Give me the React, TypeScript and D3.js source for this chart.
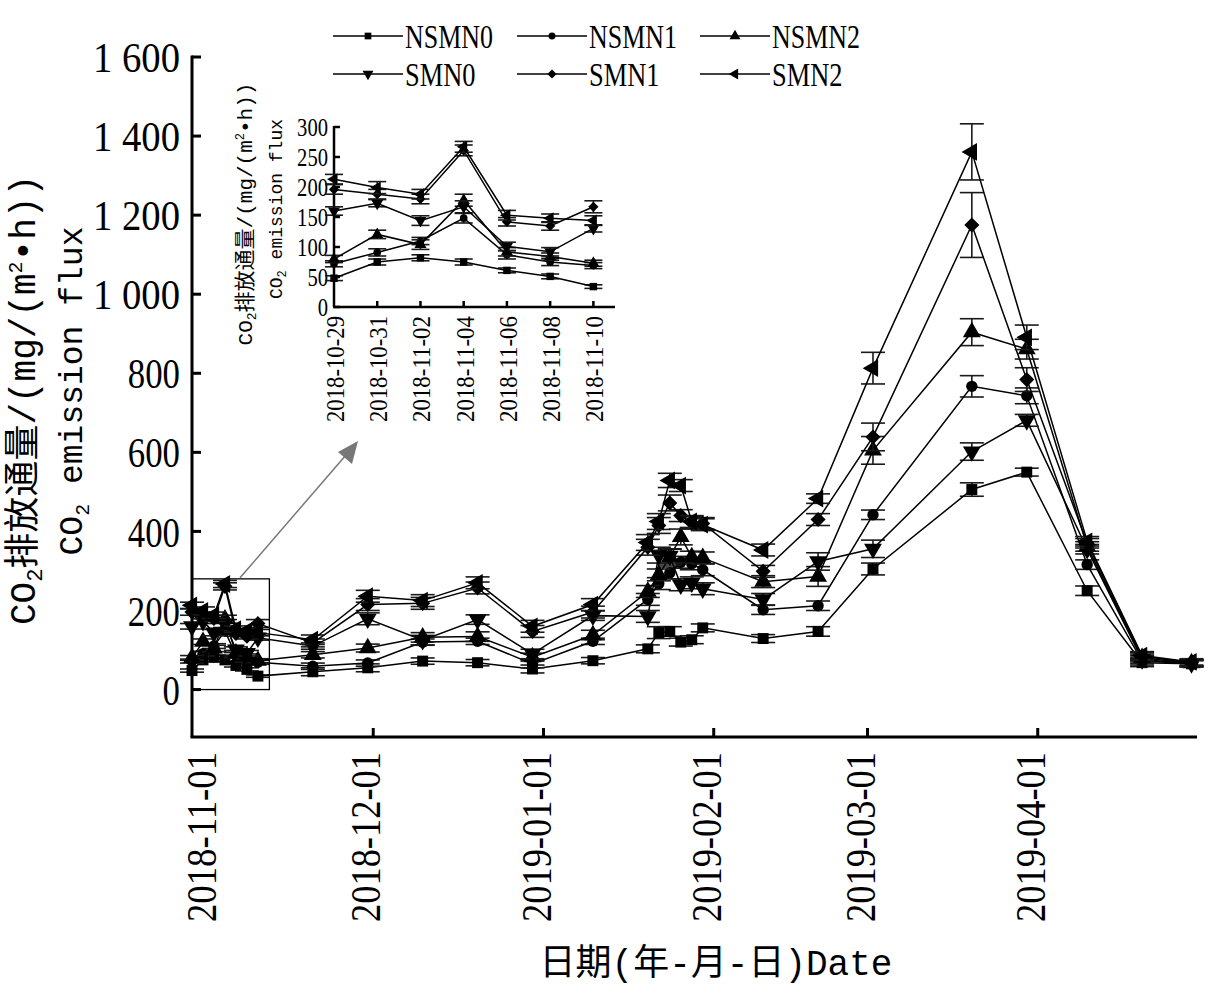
import React from 'react';
import * as d3 from 'd3';

// sampling dates
const dates = [
  '2018-10-29', '2018-10-31', '2018-11-02', '2018-11-04', '2018-11-06', '2018-11-08', '2018-11-10',
  '2018-11-20', '2018-11-30', '2018-12-10', '2018-12-20', '2018-12-30', '2019-01-10',
  '2019-01-20', '2019-01-22', '2019-01-24', '2019-01-26', '2019-01-28', '2019-01-30',
  '2019-02-10', '2019-02-20', '2019-03-02', '2019-03-20', '2019-03-30', '2019-04-10',
  '2019-04-20', '2019-04-29',
];

const seriesNames = ['NSMN0', 'NSMN1', 'NSMN2', 'SMN0', 'SMN1', 'SMN2'];

const nsmn0 = [48, 75, 82, 75, 61, 51, 34, 45, 55, 72, 68, 52, 73, 103, 144, 147, 120, 126, 156, 129, 147, 305, 506, 550, 250, 68, 65];
const nsmn1 = [72, 91, 110, 148, 87, 75, 69, 59, 67, 120, 122, 65, 122, 228, 268, 295, 322, 318, 303, 202, 212, 442, 767, 743, 316, 72, 66];
const nsmn2 = [80, 121, 104, 178, 92, 84, 73, 88, 105, 132, 134, 82, 138, 248, 290, 335, 386, 335, 333, 273, 286, 605, 904, 861, 362, 80, 67];
const smn0 = [160, 173, 144, 167, 101, 92, 131, 110, 179, 125, 177, 90, 187, 185, 340, 338, 265, 270, 255, 228, 324, 356, 602, 681, 355, 76, 66];
const smn1 = [196, 188, 180, 261, 142, 135, 167, 118, 215, 218, 257, 147, 196, 360, 415, 472, 440, 422, 420, 299, 430, 639, 1175, 784, 370, 84, 68];
const smn2 = [213, 199, 188, 267, 153, 148, 144, 126, 236, 225, 270, 160, 215, 372, 425, 529, 516, 425, 417, 353, 483, 813, 1360, 891, 375, 86, 70];

const nsmn0Err = [4, 5, 5, 5, 4, 4, 3, 10, 10, 8, 8, 10, 8, 10, 15, 12, 10, 10, 10, 10, 12, 15, 17, 10, 12, 10, 8];
const nsmn1Err = [5, 6, 6, 8, 7, 6, 5, 8, 8, 8, 8, 10, 8, 15, 15, 15, 15, 15, 15, 12, 12, 12, 27, 20, 12, 10, 8];
const nsmn2Err = [6, 7, 8, 10, 7, 6, 5, 8, 10, 12, 12, 10, 12, 15, 15, 20, 20, 15, 15, 15, 25, 35, 34, 25, 12, 10, 8];
const smn0Err = [7, 6, 8, 10, 7, 7, 6, 8, 15, 12, 12, 12, 12, 15, 20, 18, 15, 15, 15, 15, 22, 22, 22, 15, 12, 10, 8];
const smn1Err = [8, 8, 8, 9, 7, 7, 10, 10, 15, 15, 15, 15, 15, 20, 20, 20, 15, 15, 15, 15, 15, 35, 82, 30, 12, 10, 8];
const smn2Err = [8, 10, 8, 9, 8, 7, 8, 12, 15, 15, 15, 15, 15, 20, 20, 18, 15, 15, 15, 15, 12, 40, 71, 31, 12, 10, 8];

const mainYTicks = [0, 200, 400, 600, 800, 1000, 1200, 1400, 1600];
const monthTicks = ['2018-11-01', '2018-12-01', '2019-01-01', '2019-02-01', '2019-03-01', '2019-04-01'];
const insetYTicks = [0, 50, 100, 150, 200, 250, 300];
const insetCount = 7; // first seven dates shown in the inset

const parse = d3.utcParse('%Y-%m-%d');
const numFont = "'Liberation Serif', 'Times New Roman', serif";
const titleFont = "'Liberation Mono', 'Noto Sans CJK SC', monospace";

const values = [nsmn0, nsmn1, nsmn2, smn0, smn1, smn2];
const errors = [nsmn0Err, nsmn1Err, nsmn2Err, smn0Err, smn1Err, smn2Err];

// marker shape per series: [symbol, rotation, size scale]
const shapes: [d3.SymbolType, number, number][] = [
  [d3.symbolSquare, 0, 1],
  [d3.symbolCircle, 0, 0.85],
  [d3.symbolTriangle, 0, 1.15],
  [d3.symbolTriangle, 180, 1.15],
  [d3.symbolSquare, 45, 0.95],
  [d3.symbolTriangle, -90, 1.15],
];

const fmt = (v: number) => d3.format(',')(v).replace(',', ' ');

function Marker({ i, x, y, size }: { i: number; x: number; y: number; size: number }) {
  const [sym, rot, k] = shapes[i];
  const d = d3.symbol(sym, size * k)() || '';
  return <path d={d} transform={`translate(${x},${y}) rotate(${rot})`} fill="#000" />;
}

function Series({ xs, ys, idx, n, cap, msize }: any) {
  const pts = values[idx].slice(0, n).map((v, j) => ({ x: xs(parse(dates[j])), v, e: errors[idx][j] }));
  const line = d3.line<any>().x(p => p.x).y(p => ys(p.v));
  return (
    <g>
      {pts.map((p, j) => (
        <g key={j} stroke="#1a1a1a" strokeWidth={1.6}>
          <line x1={p.x} x2={p.x} y1={ys(p.v - p.e)} y2={ys(p.v + p.e)} />
          <line x1={p.x - cap} x2={p.x + cap} y1={ys(p.v - p.e)} y2={ys(p.v - p.e)} />
          <line x1={p.x - cap} x2={p.x + cap} y1={ys(p.v + p.e)} y2={ys(p.v + p.e)} />
        </g>
      ))}
      <path d={line(pts) || ''} fill="none" stroke="#000" strokeWidth={1.5} />
      {pts.map((p, j) => <Marker key={j} i={idx} x={p.x} y={ys(p.v)} size={msize} />)}
    </g>
  );
}

export default function App() {
  const x = d3.scaleUtc().domain([parse('2018-10-29')!, parse('2019-04-30')!]).range([192, 1197]);
  const y = d3.scaleLinear().domain([-120, 1600]).range([737, 57]);
  const ix = d3.scaleUtc().domain([parse('2018-10-29')!, parse('2018-11-11')!]).range([334, 615]);
  const iy = d3.scaleLinear().domain([0, 300]).range([307, 127]);

  const legendCols = [333, 517, 700];
  const legendRows = [36, 74];

  return (
    <svg width={1213} height={987} style={{ position: 'absolute', left: 0, top: 0, background: '#fff' }}>
      {/* legend */}
      {seriesNames.map((name, i) => {
        const cx = legendCols[i % 3];
        const cy = legendRows[Math.floor(i / 3)];
        return (
          <g key={name}>
            <line x1={cx} x2={cx + 70} y1={cy} y2={cy} stroke="#000" strokeWidth={1.5} />
            <Marker i={i} x={cx + 35} y={cy} size={45} />
            <text x={cx + 72} y={cy + 12} fontFamily={numFont} fontSize={34}
              textLength={name.length * 17.6} lengthAdjust="spacingAndGlyphs">{name}</text>
          </g>
        );
      })}

      {/* main axes */}
      <g stroke="#000" strokeWidth={3} fill="none">
        <line x1={192} x2={192} y1={y(1600) - 1.5} y2={y(-120)} />
        <line x1={190.5} x2={1197} y1={y(-120)} y2={y(-120)} />
        {mainYTicks.map(t => <line key={t} x1={192} x2={201} y1={y(t)} y2={y(t)} />)}
        {monthTicks.slice(1).map(t => (
          <line key={t} x1={x(parse(t)!)} x2={x(parse(t)!)} y1={y(-120)} y2={y(-120) - 9} />
        ))}
      </g>
      {mainYTicks.map(t => (
        <text key={t} x={180} y={y(t)} dy="0.36em" textAnchor="end" fontFamily={numFont} fontSize={42}
          textLength={fmt(t).length * 17.4} lengthAdjust="spacingAndGlyphs">{fmt(t)}</text>
      ))}
      {monthTicks.map(t => (
        <text key={t} transform={`translate(${x(parse(t)!) - 8},752) rotate(-90)`} dy="0.36em" textAnchor="end"
          fontFamily={numFont} fontSize={42} textLength={170} lengthAdjust="spacingAndGlyphs">{t}</text>
      ))}

      {/* axis titles */}
      <text transform="translate(22,400) rotate(-90)" dy="0.36em" textAnchor="middle" fontFamily={titleFont} fontSize={36}>
        CO<tspan fontSize={22} dy={7}>2</tspan><tspan dy={-7}>排放通量/(mg/(m</tspan><tspan fontSize={20} dy={-13}>2</tspan><tspan dy={13}>•h))</tspan>
      </text>
      <text transform="translate(70,391) rotate(-90)" dy="0.36em" textAnchor="middle" fontFamily={titleFont} fontSize={33}>
        CO<tspan fontSize={20} dy={7}>2</tspan><tspan dy={-7}> emission flux</tspan>
      </text>
      <text x={716} y={975} textAnchor="middle" fontFamily={titleFont} fontSize={36}>日期(年-月-日)Date</text>

      {/* main series */}
      {seriesNames.map((_, i) => (
        <Series key={i} xs={x} ys={y} idx={i} n={dates.length} cap={12} msize={120} />
      ))}

      {/* zoom box and arrow */}
      <rect x={192} y={y(280)} width={x(parse('2018-11-11')!) + 6 - 192} height={y(0) - y(280)}
        fill="none" stroke="#000" strokeWidth={1.3} />
      <line x1={240} y1={y(280) - 1} x2={346} y2={455} stroke="#777" strokeWidth={1.5} />
      <path d="M358,441 L338,452 L352,464 Z" fill="#777" />

      {/* inset axes */}
      <g stroke="#000" strokeWidth={2.5} fill="none">
        <line x1={334} x2={334} y1={iy(300) - 1} y2={iy(0)} />
        <line x1={333} x2={615} y1={iy(0)} y2={iy(0)} />
        {insetYTicks.map(t => <line key={t} x1={334} x2={340} y1={iy(t)} y2={iy(t)} />)}
        {dates.slice(1, insetCount).map(t => (
          <line key={t} x1={ix(parse(t)!)} x2={ix(parse(t)!)} y1={iy(0)} y2={iy(0) - 6} />
        ))}
      </g>
      {insetYTicks.map(t => (
        <text key={t} x={328} y={iy(t)} dy="0.36em" textAnchor="end" fontFamily={numFont} fontSize={25}
          textLength={String(t).length * 10.3} lengthAdjust="spacingAndGlyphs">{t}</text>
      ))}
      {dates.slice(0, insetCount).map(t => (
        <text key={t} transform={`translate(${ix(parse(t)!) + 1},316) rotate(-90)`} dy="0.36em" textAnchor="end"
          fontFamily={numFont} fontSize={25} textLength={106} lengthAdjust="spacingAndGlyphs">{t}</text>
      ))}
      <text transform="translate(244,214) rotate(-90)" dy="0.36em" textAnchor="middle" fontFamily={titleFont} fontSize={21}>
        CO<tspan fontSize={13} dy={4}>2</tspan><tspan dy={-4}>排放通量/(mg/(m</tspan><tspan fontSize={12} dy={-8}>2</tspan><tspan dy={8}>•h))</tspan>
      </text>
      <text transform="translate(276,209) rotate(-90)" dy="0.36em" textAnchor="middle" fontFamily={titleFont} fontSize={18}>
        CO<tspan fontSize={12} dy={4}>2</tspan><tspan dy={-4}> emission flux</tspan>
      </text>

      {/* inset series */}
      {seriesNames.map((_, i) => (
        <Series key={i} xs={ix} ys={iy} idx={i} n={insetCount} cap={9} msize={55} />
      ))}
    </svg>
  );
}
